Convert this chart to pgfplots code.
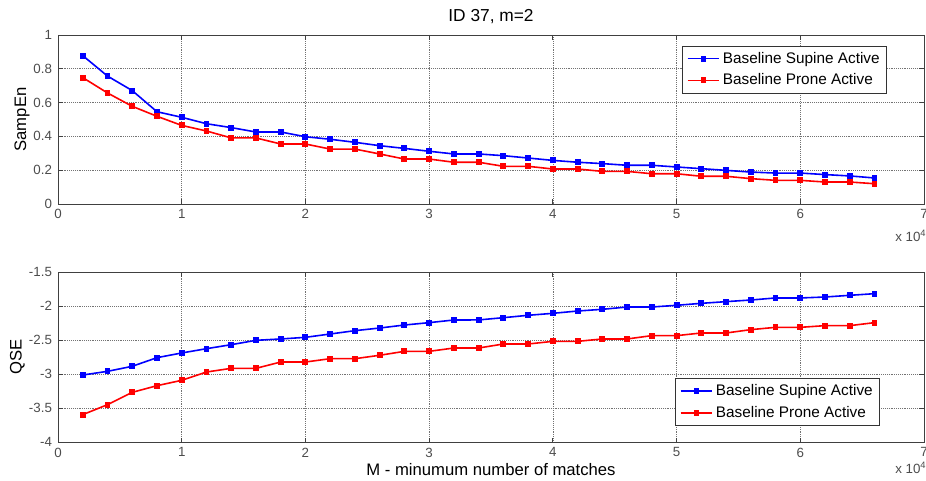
\documentclass[border=0pt]{standalone}
\usepackage{fontspec}
\setmainfont{Liberation Sans}
\usepackage{pgfplots}
\usepackage{pgfplotstable}
\pgfplotsset{compat=1.18}

\pgfplotstableread{
x s p
2000 0.878 0.748
4000 0.757 0.657
6000 0.671 0.578
8000 0.546 0.519
10000 0.513 0.465
12000 0.475 0.432
14000 0.452 0.391
16000 0.426 0.391
18000 0.426 0.355
20000 0.398 0.355
22000 0.383 0.325
24000 0.365 0.325
26000 0.345 0.296
28000 0.329 0.266
30000 0.312 0.266
32000 0.296 0.247
34000 0.296 0.247
36000 0.286 0.223
38000 0.272 0.223
40000 0.258 0.207
42000 0.247 0.207
44000 0.239 0.193
46000 0.229 0.193
48000 0.229 0.179
50000 0.219 0.179
52000 0.209 0.164
54000 0.199 0.164
56000 0.189 0.150
58000 0.183 0.140
60000 0.183 0.140
62000 0.174 0.130
64000 0.166 0.130
66000 0.154 0.120
}\sampen

\pgfplotstableread{
x s p
2000 -3.010 -3.593
4000 -2.956 -3.446
6000 -2.882 -3.265
8000 -2.755 -3.167
10000 -2.686 -3.088
12000 -2.623 -2.966
14000 -2.564 -2.912
16000 -2.500 -2.912
18000 -2.480 -2.819
20000 -2.456 -2.819
22000 -2.407 -2.770
24000 -2.358 -2.770
26000 -2.319 -2.720
28000 -2.275 -2.662
30000 -2.240 -2.662
32000 -2.201 -2.613
34000 -2.200 -2.613
36000 -2.167 -2.554
38000 -2.132 -2.554
40000 -2.103 -2.515
42000 -2.069 -2.515
44000 -2.044 -2.480
46000 -2.010 -2.480
48000 -2.010 -2.431
50000 -1.985 -2.431
52000 -1.956 -2.392
54000 -1.931 -2.392
56000 -1.907 -2.343
58000 -1.877 -2.309
60000 -1.877 -2.309
62000 -1.863 -2.284
64000 -1.838 -2.284
66000 -1.814 -2.240
}\qse

\pgfplotsset{
  myaxis/.style={
    scale only axis,
    clip mode=individual,
    width=649.5pt,
    xmin=0, xmax=70000,
    xtick={0,10000,20000,30000,40000,50000,60000,70000},
    xticklabels={0,1,2,3,4,5,6,7},
    scaled x ticks=false,
    tick align=inside,
    major tick length=3.5pt,
    xtick pos=both, ytick pos=both,
    grid=major,
    grid style={densely dotted, black!55, line width=0.5pt},
    axis line style={black!75, line width=0.6pt},
    every tick/.style={black!75, line width=0.6pt},
    tick label style={font=\fontsize{10}{11}\selectfont, text=black!70},
    /pgf/number format/assume math mode=true,
    label style={font=\fontsize{12.5}{14}\selectfont},
    legend style={font=\fontsize{11.5}{13}\selectfont, draw=black!80, line width=0.6pt, inner xsep=3pt, inner ysep=2.5pt, row sep=2.5pt},
    legend cell align=left,
    legend image code/.code={\draw[line width=1.2pt, mark repeat=2,mark phase=2] plot coordinates {(0cm,0cm) (0.42cm,0cm) (0.84cm,0cm)};},
    xticklabel style={yshift=-0.5pt},
    yticklabel style={xshift=-1pt},
  },
  sup/.style={blue, line width=1.2pt, mark=square*, mark size=1.6pt, mark options={solid}},
  pro/.style={red, line width=1.2pt, mark=square*, mark size=1.6pt, mark options={solid}},
}

\begin{document}
\begin{tikzpicture}
\path[use as bounding box] (0,0) rectangle (694.5pt,360.75pt);

\begin{axis}[myaxis,
  at={(43.5pt,207.75pt)}, anchor=south west,
  height=126.75pt,
  ymin=0, ymax=1,
  ytick={0,0.2,0.4,0.6,0.8,1},
  ylabel={SampEn},
  ylabel style={at={(axis description cs:-0.0416,0.5)}, anchor=center},
  legend style={at={(axis description cs:0.957,0.937)}, anchor=north east},
]
\addplot[sup] table[x=x,y=s] {\sampen};
\addplot[pro] table[x=x,y=p] {\sampen};
\legend{Baseline Supine Active, Baseline Prone Active}
\node[anchor=center, font=\fontsize{13}{15}\selectfont, inner sep=0pt] at (axis description cs:0.5,1.109) {ID 37, m=2};
\node[anchor=north east, font=\fontsize{10}{11}\selectfont, text=black!70, inner sep=0pt] at (axis description cs:1.003,-0.155) {x 10\textsuperscript{4}};
\end{axis}

\begin{axis}[myaxis,
  at={(43.5pt,29.0pt)}, anchor=south west,
  height=127.5pt,
  ymin=-4, ymax=-1.5,
  ytick={-4,-3.5,-3,-2.5,-2,-1.5},
  ylabel={QSE},
  ylabel style={at={(axis description cs:-0.0468,0.5)}, anchor=center},
  xlabel={M - minumum number of matches},
  xlabel style={at={(axis description cs:0.5,-0.159)}, anchor=center},
  legend style={at={(axis description cs:0.949,0.096)}, anchor=south east},
]
\addplot[sup] table[x=x,y=s] {\qse};
\addplot[pro] table[x=x,y=p] {\qse};
\legend{Baseline Supine Active, Baseline Prone Active}
\node[anchor=north east, font=\fontsize{10}{11}\selectfont, text=black!70, inner sep=0pt] at (axis description cs:1.003,-0.115) {x 10\textsuperscript{4}};
\end{axis}
\end{tikzpicture}
\end{document}
